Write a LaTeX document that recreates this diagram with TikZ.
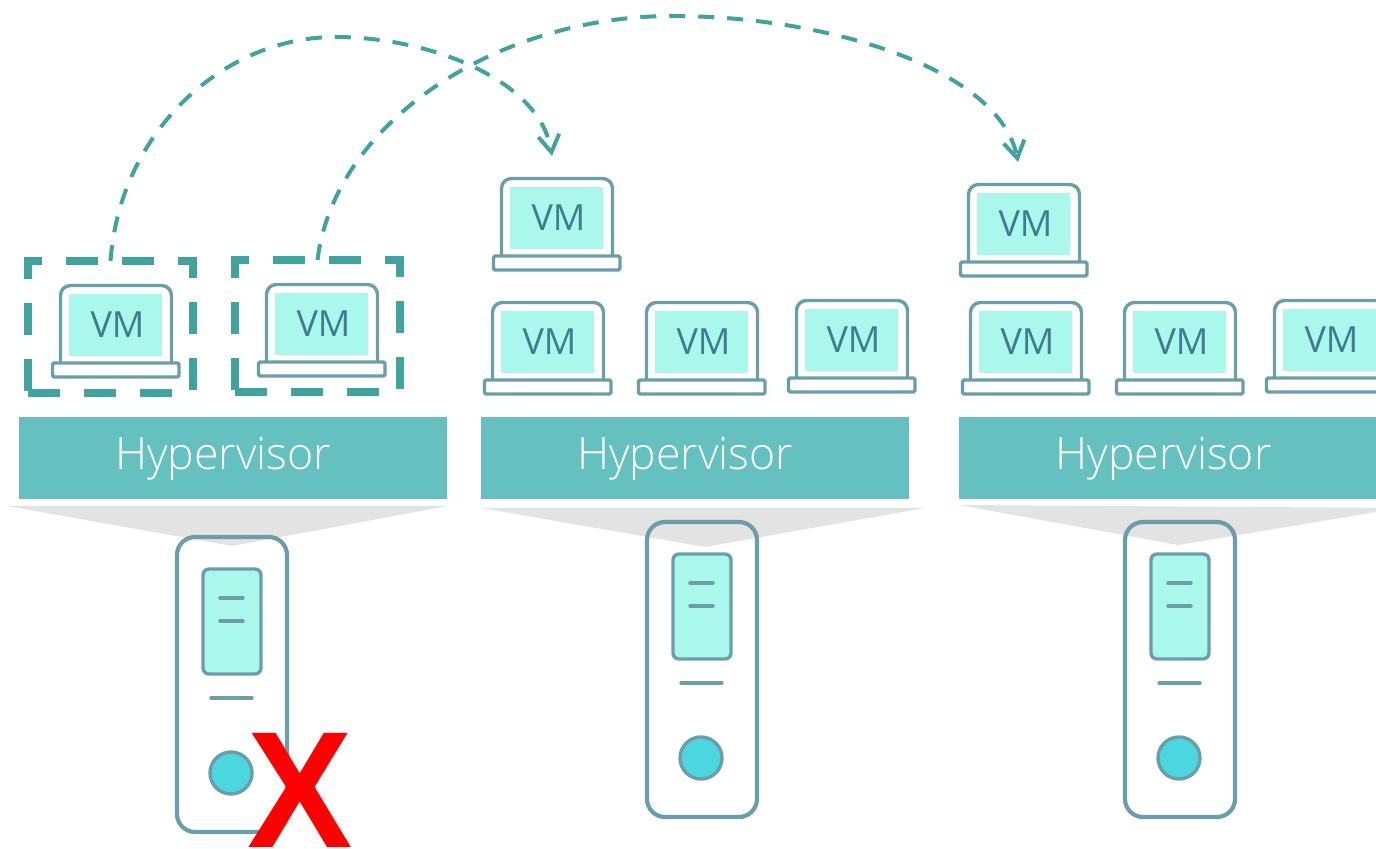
\documentclass[tikz,border=0pt]{standalone}
\usepackage{fontspec}
\setmainfont{Open Sans}
\newfontfamily\lightface{Open Sans Light}
\usetikzlibrary{arrows.meta}
\definecolor{teal1}{HTML}{64C1BF}
\definecolor{teal2}{HTML}{41A39E}
\definecolor{strokeb}{HTML}{6A9EAB}
\definecolor{cyanf}{HTML}{AAF8EC}
\definecolor{vmtext}{HTML}{3F7C90}
\definecolor{grayf}{HTML}{E3E3E3}
\definecolor{dotf}{HTML}{4CD6E0}
\tikzset{
  x=0.5pt,y=-0.5pt,
  outline/.style={draw=strokeb,line width=1.7pt},
  hyperbox/.style={fill=teal1,minimum width=214pt,minimum height=41pt,inner sep=0pt,outer sep=0pt,anchor=north west},
  hypertext/.style={text=white,font=\lightface\fontsize{22.3}{26}\selectfont,inner sep=0pt},
  vmlabel/.style={text=vmtext,font=\fontsize{18}{22}\selectfont,inner sep=0pt},
  dashbox/.style={draw=teal2,line width=4pt,minimum width=82.5pt,minimum height=66pt,inner sep=0pt,outer sep=0pt,dash pattern=on 16pt off 12pt},
  hop/.style={draw=teal2,line width=2pt,dash pattern=on 8pt off 6.5pt,-{Straight Barb[length=8.5pt,width=10.5pt,line width=2pt]}},
  laptop/.pic={
    \path[outline,rounded corners=5pt] (-55.5,38) -- (-55.5,-39.5) -- (55.5,-39.5) -- (55.5,38);
    \path[fill=cyanf] (-47,-31) rectangle (46,31);
    \path[outline,fill=white,rounded corners=0.8pt] (-63.5,38) rectangle (63,52);
    \node[vmlabel] at (1.5,0) {VM};
  },
  server/.pic={
    \path[outline,line width=2.1pt,rounded corners=9pt] (177,537) rectangle (287,832);
    \path[outline,fill=cyanf,rounded corners=3pt] (203,569) rectangle (261,674);
    \path[outline,line cap=round] (220,598) -- (243,598);
    \path[outline,line cap=round] (220,621) -- (243,621);
    \path[outline,line cap=round] (211,698) -- (252,698);
    \path[outline,fill=dotf] (231,773) circle (21);
  }
}
\begin{document}
\begin{tikzpicture}
\clip (0,0) rectangle (1376,849);
% shadows
\fill[grayf] (7,506) -- (448,506) -- (232,546) -- cycle;
\fill[grayf] (481,508) -- (925,508) -- (705,547) -- cycle;
\fill[grayf] (959,505) -- (1400,508) -- (1178,545) -- cycle;
% servers
\pic at (0,0) {server};
\pic at (470,-15) {server};
\pic at (948,-15) {server};
% hypervisors
\node[hyperbox] (hv1) at (19,417) {};
\node[hyperbox] (hv2) at (481,417) {};
\node[hyperbox] (hv3) at (959,417) {};
\node[hypertext] (ht1) at (223,459) {Hypervisor};
\node[hypertext] (ht2) at (685,459) {Hypervisor};
\node[hypertext] (ht3) at (1163.5,459) {Hypervisor};
% laptops
\pic at (116,325) {laptop};
\pic at (322,324) {laptop};
\pic at (557,218) {laptop};
\pic at (548,342) {laptop};
\pic at (702,342) {laptop};
\pic at (852,340) {laptop};
\pic at (1024,224) {laptop};
\pic at (1026,342) {laptop};
\pic at (1180,342) {laptop};
\pic at (1330,340) {laptop};
% dashed selections
\node[dashbox] (box1) at (110.5,327) {};
\node[dashbox] (box2) at (317.5,326) {};
% migration arrows
\coordinate (t1) at (552,156);
\coordinate (t2) at (1018,162);
\draw[hop] (box1.north) .. controls (120,130) and (225,37) .. (335,37) .. controls (430,37) and (540,80) .. (t1);
\draw[hop] (box2.north) .. controls (335,120) and (500,16) .. (672,16) .. controls (830,16) and (1000,70) .. (t2);
% failure mark
\node[text=red,inner sep=0pt,xscale=0.95,font=\fontspec{Liberation Sans}\bfseries\fontsize{83}{83}\selectfont] (fail) at (300.5,790) {X};
\end{tikzpicture}
\end{document}
